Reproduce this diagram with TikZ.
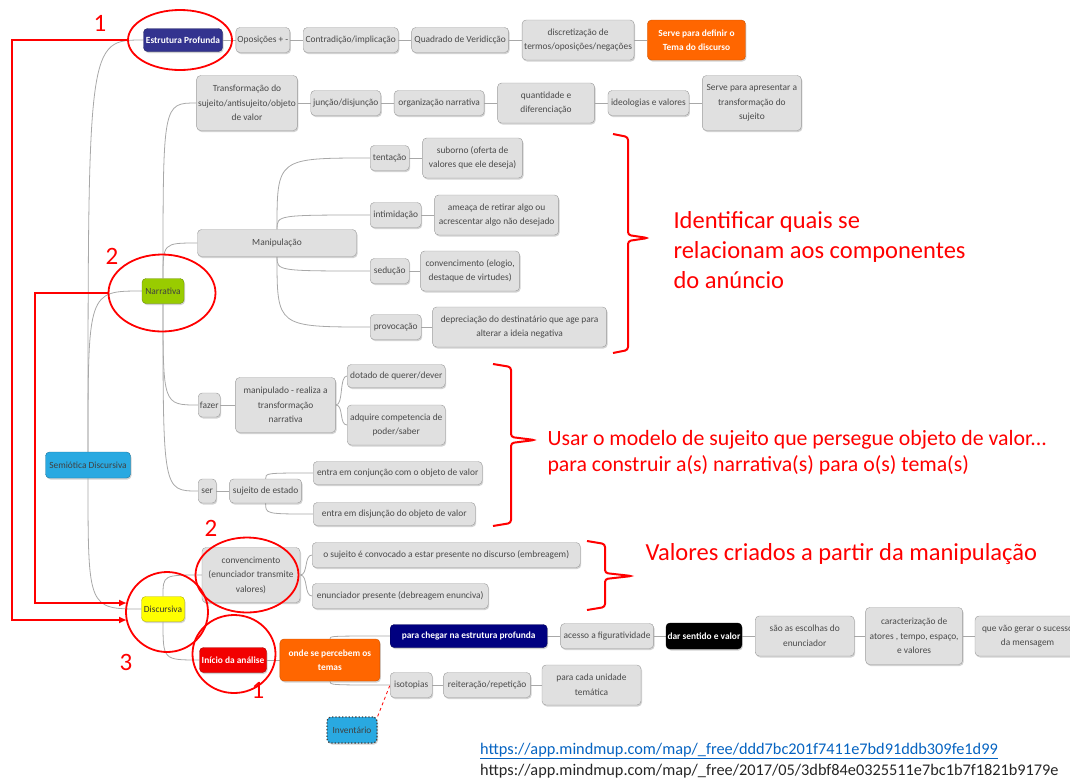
\documentclass[tikz,border=0pt]{standalone}
\usepackage{fontspec}
\setmainfont{Carlito}
\usepackage{xcolor}
\definecolor{cDeep}{HTML}{33338F}
\definecolor{cOrange}{HTML}{FF6600}
\definecolor{cLeaf}{HTML}{99CC00}
\definecolor{cSky}{HTML}{29A9E1}
\definecolor{cSun}{HTML}{FFFF00}
\definecolor{cAlarm}{HTML}{F20000}
\definecolor{cNavy}{HTML}{000080}
\definecolor{cBox}{HTML}{E0E0E0}
\definecolor{cEdge}{HTML}{9A9A9A}
\definecolor{cInk}{HTML}{4A4A4A}
\definecolor{cLink}{HTML}{A8A8A8}
\definecolor{cMark}{HTML}{FF0000}
\definecolor{cUrl}{HTML}{0563C1}
\usepackage{tikz}
\usetikzlibrary{positioning,arrows.meta,shapes.geometric,shadows,backgrounds}
\newcommand{\boxfont}{\fontsize{9.4}{14.5}\selectfont}
\tikzset{
  node-box/.style={draw=cEdge,fill=cBox,rounded corners=4pt,text=cInk,
    minimum height=25pt,inner sep=1.5pt,align=center,font=\boxfont,
    drop shadow={shadow xshift=1pt,shadow yshift=-1.5pt,fill=black!35}},
  box-two/.style={minimum height=40pt},
  box-three/.style={minimum height=55pt},
  node-deep/.style={fill=cDeep,draw=cDeep!70!black,text=white,font=\boxfont\bfseries},
  node-orange/.style={fill=cOrange,draw=cOrange!80!black,text=white,font=\boxfont\bfseries},
  node-leaf/.style={fill=cLeaf,draw=cLeaf!70!black,text=black!75},
  node-sky/.style={fill=cSky,draw=cSky!70!black,text=black!75},
  node-sun/.style={fill=cSun,draw=cSun!70!black,text=black!80},
  node-alarm/.style={fill=cAlarm,draw=cAlarm!70!black,text=white,font=\boxfont\bfseries},
  node-navy/.style={fill=cNavy,draw=cNavy!70!black,text=white,font=\boxfont\bfseries},
  node-black/.style={fill=black,draw=black,text=white,font=\boxfont\bfseries},
  node-dotted/.style={fill=cSky,draw=black!75,dotted,line width=1.3pt,text=black!75},
  link/.style={draw=cLink,line width=0.8pt},
  link-dashed/.style={draw=cMark,dashed,line width=0.8pt},
  ring/.style={draw=cMark,line width=1.8pt,ellipse,inner sep=0pt},
  arrow-red/.style={-{Latex[length=8pt,width=7pt]},draw=cMark,line width=1.5pt},
  brace-red/.style={draw=cMark,line width=2pt,rounded corners=3pt},
  mark-num/.style={text=cMark,font=\fontsize{25}{25}\selectfont},
  note-red/.style={text=cMark,anchor=west,align=left},
}

\begin{document}
\begin{tikzpicture}[x=1pt,y=-1pt,node distance=13pt]
  \useasboundingbox (0,0) rectangle (1070,780);
  \clip (0,0) rectangle (1070,780);

  % raiz
  \node[node-box,node-sky,minimum width=85pt,minimum height=26pt] (root) at (88,465) {Semiótica Discursiva};

  % estrutura profunda
  \node[node-box,node-deep,minimum width=79pt,minimum height=23pt] (estr) at (183,40) {Estrutura Profunda};
  \node[node-box,right=of estr,minimum width=53pt] (opos) {Oposições + -};
  \node[node-box,right=of opos,minimum width=95pt] (contr) {Contradição/implicação};
  \node[node-box,right=of contr,minimum width=97pt] (quad) {Quadrado de Veridicção};
  \node[node-box,box-two,right=of quad,minimum width=112pt] (discr) {discretização de\\termos/oposições/negações};
  \node[node-box,box-two,node-orange,right=of discr,minimum width=98pt] (serve1) {Serve para definir o\\Tema do discurso};

  % narrativa
  \node[node-box,node-leaf,minimum width=42pt] (narr) at (163,291) {Narrativa};
  \node[node-box,box-three,minimum width=99pt] (transf) at (247,103) {Transformação do\\sujeito/antisujeito/objeto\\de valor};
  \node[node-box,right=of transf,minimum width=70pt] (junc) {junção/disjunção};
  \node[node-box,right=of junc,minimum width=90pt] (organ) {organização narrativa};
  \node[node-box,box-two,right=of organ,minimum width=97pt] (quant) {quantidade e\\diferenciação};
  \node[node-box,right=of quant,minimum width=81pt] (ideol) {ideologias e valores};
  \node[node-box,box-three,right=of ideol,minimum width=99pt] (serve2) {Serve para apresentar a\\transformação do\\sujeito};

  \node[node-box,minimum width=159pt,minimum height=27pt] (manip) at (277,243) {Manipulação};
  \node[node-box,anchor=west,minimum width=39pt] (tent) at (370,158) {tentação};
  \node[node-box,box-two,right=of tent,minimum width=100pt] (subor) {suborno (oferta de\\valores que ele deseja)};
  \node[node-box,anchor=west,minimum width=51pt] (intim) at (370,215) {intimidação};
  \node[node-box,box-two,right=of intim,minimum width=124pt] (ameaca) {ameaça de retirar algo ou\\acrescentar algo não desejado};
  \node[node-box,anchor=west,minimum width=39pt] (sed) at (370,271) {sedução};
  \node[node-box,box-two,right=11pt of sed,minimum width=99pt] (elogio) {convencimento (elogio,\\destaque de virtudes)};
  \node[node-box,anchor=west,minimum width=51pt] (provoc) at (370,327) {provocação};
  \node[node-box,box-two,right=11pt of provoc,minimum width=174pt] (deprec) {depreciação do destinatário que age para\\alterar a ideia negativa};

  \node[node-box,anchor=west,minimum width=22pt,minimum height=24pt] (fazer) at (198,405) {fazer};
  \node[node-box,box-three,right=15pt of fazer,minimum width=100pt] (manipu) {manipulado - realiza a\\transformação\\narrativa};
  \node[node-box,anchor=west,minimum width=98pt,minimum height=23pt] (dotado) at (347,376) {dotado de querer/dever};
  \node[node-box,box-two,anchor=west,minimum width=98pt] (adquire) at (347,425) {adquire competencia de\\poder/saber};
  \node[node-box,anchor=west,minimum width=18pt,minimum height=24pt] (ser) at (198,491) {ser};
  \node[node-box,right=of ser,minimum width=72pt,minimum height=24pt] (sujest) {sujeito de estado};
  \node[node-box,anchor=west,minimum width=169pt,minimum height=23pt] (conj) at (313,473) {entra em conjunção com o objeto de valor};
  \node[node-box,anchor=west,minimum width=162pt,minimum height=23pt] (disj) at (313,514) {entra em disjunção do objeto de valor};

  % discursiva
  \node[node-box,node-sun,minimum width=43pt] (disc) at (163,609) {Discursiva};
  \node[node-box,box-three,minimum width=98pt] (conv) at (251,575) {convencimento\\(enunciador transmite\\valores)};
  \node[node-box,anchor=west,minimum width=268pt] (osuj) at (312,555) {o sujeito é convocado a estar presente no discurso (embreagem)};
  \node[node-box,anchor=west,minimum width=176pt] (enunc) at (312,596) {enunciador presente (debreagem enunciva)};
  \node[node-box,node-alarm,minimum width=67pt] (inicio) at (233,660) {Início da análise};
  \node[node-box,box-two,node-orange,right=of inicio,minimum width=100pt,minimum height=42pt] (onde) {onde se percebem os\\temas};
  \node[node-box,node-navy,anchor=west,minimum width=157pt,minimum height=23pt] (chegar) at (390,636) {para chegar na estrutura profunda};
  \node[node-box,right=of chegar,minimum width=93pt] (acesso) {acesso a figuratividade};
  \node[node-box,node-black,right=12pt of acesso,minimum width=75pt,minimum height=26pt] (dar) {dar sentido e valor};
  \node[node-box,box-two,right=of dar,minimum width=99pt] (escol) {são as escolhas do\\enunciador};
  \node[node-box,box-three,right=11pt of escol,minimum width=97pt,minimum height=57pt] (caract) {caracterização de\\atores , tempo, espaço,\\e valores};
  \node[node-box,box-two,right=12pt of caract,minimum width=105pt] (gerar) {que vão gerar o sucesso\\da mensagem};
  \node[node-box,anchor=west,minimum width=42pt] (iso) at (390,685) {isotopias};
  \node[node-box,right=11pt of iso,minimum width=87pt] (reit) {reiteração/repetição};
  \node[node-box,box-two,right=11pt of reit,minimum width=99pt] (cada) {para cada unidade\\temática};
  \node[node-box,node-dotted,minimum width=50pt,minimum height=26pt] (invent) at (352,730) {Inventário};

  \begin{scope}[on background layer]
    \draw[link] (root) .. controls (root |- estr) .. (estr.west);
    \draw[link] (root) .. controls (root |- narr) .. (narr.west);
    \draw[link] (root) .. controls (root |- disc) .. (disc.west);
    \draw[link] (estr) -- (opos) -- (contr) -- (quad) -- (discr) -- (serve1);
    \draw[link] (narr) .. controls (narr |- transf) .. (transf.west);
    \draw[link] (narr) .. controls (narr |- manip) .. (manip.west);
    \draw[link] (narr) .. controls (narr |- fazer) .. (fazer.west);
    \draw[link] (narr) .. controls (narr |- ser) .. (ser.west);
    \draw[link] (transf) -- (junc) -- (organ) -- (quant) -- (ideol) -- (serve2);
    \draw[link] (manip) .. controls (manip |- tent) .. (tent.west);
    \draw[link] (manip) .. controls (manip |- intim) .. (intim.west);
    \draw[link] (manip) .. controls (manip |- sed) .. (sed.west);
    \draw[link] (manip) .. controls (manip |- provoc) .. (provoc.west);
    \draw[link] (tent) -- (subor);
    \draw[link] (intim) -- (ameaca);
    \draw[link] (sed) -- (elogio);
    \draw[link] (provoc) -- (deprec);
    \draw[link] (fazer) -- (manipu);
    \draw[link] (manipu.east) .. controls +(8,0) and +(-8,0) .. (dotado.west);
    \draw[link] (manipu.east) .. controls +(8,0) and +(-8,0) .. (adquire.west);
    \draw[link] (ser) -- (sujest);
    \draw[link] (sujest) .. controls (sujest |- conj) .. (conj.west);
    \draw[link] (sujest) .. controls (sujest |- disj) .. (disj.west);
    \draw[link] (disc) .. controls (disc |- conv) .. (conv.west);
    \draw[link] (disc) .. controls (disc |- inicio) .. (inicio.west);
    \draw[link] (conv.east) .. controls +(8,0) and +(-8,0) .. (osuj.west);
    \draw[link] (conv.east) .. controls +(8,0) and +(-8,0) .. (enunc.west);
    \draw[link] (inicio) -- (onde);
    \draw[link] (onde) .. controls (onde |- chegar) .. (chegar.west);
    \draw[link] (onde) .. controls (onde |- iso) .. (iso.west);
    \draw[link] (chegar) -- (acesso) -- (dar) -- (escol) -- (caract) -- (gerar);
    \draw[link] (iso) -- (reit) -- (cada);
  \end{scope}
  \draw[link-dashed] (invent.north east) -- (iso.west);

  % marcas vermelhas
  \node[ring,minimum width=104pt,minimum height=60pt] (ring-estr) at (180,40) {};
  \node[ring,minimum width=107pt,minimum height=77pt] (ring-narr) at (162,293) {};
  \node[ring,minimum width=82pt,minimum height=80pt] (ring-disc) at (167,612) {};
  \node[ring,minimum width=103pt,minimum height=75pt] (ring-conv) at (247,575) {};
  \node[ring,minimum width=83pt,minimum height=78pt] (ring-ini) at (234,654) {};
  \node[mark-num] (num-estr) at (100,23) {1};
  \node[mark-num] (num-narr) at (112,256) {2};
  \node[mark-num] (num-conv) at (211,528) {2};
  \node[mark-num] (num-disc) at (126,662) {3};
  \node[mark-num] (num-ini) at (258,690) {1};

  \coordinate (bend-estr) at (12,40);
  \coordinate (hit-estr) at (127,620);
  \coordinate (bend-narr) at (35,293);
  \coordinate (hit-narr) at (127,603);
  \draw[arrow-red] (ring-estr.west) -- (bend-estr) |- (hit-estr);
  \draw[arrow-red] (ring-narr.west) -- (bend-narr) |- (hit-narr);

  \draw[brace-red] (613,134) -- (628,137) -- (628,235) -- (648,238) -- (628,241) -- (628,350) -- (613,353);
  \draw[brace-red] (493,364) -- (511,367) -- (511,437) -- (535,440) -- (511,443) -- (511,523) -- (493,526);
  \draw[brace-red] (587,541) -- (605,544) -- (605,573) -- (632,576) -- (605,579) -- (605,607) -- (587,610);

  \node[note-red,font=\fontsize{24.5}{30}\selectfont] (note-ident) at (670,250) {Identificar quais se\\relacionam aos componentes\\do anúncio};
  \node[note-red,font=\fontsize{21.8}{26}\selectfont] (note-usar) at (544,453) {Usar o modelo de sujeito que persegue objeto de valor...\\para construir a(s) narrativa(s) para o(s) tema(s)};
  \node[note-red,font=\fontsize{24.5}{26}\selectfont] (note-valor) at (642,554) {Valores criados a partir da manipulação};

  \node[anchor=west,text=cUrl,font=\fontsize{16.3}{16}\selectfont,inner sep=0pt] (url-a) at (480,751) {\underline{https://app.mindmup.com/map/\_free/ddd7bc201f7411e7bd91ddb309fe1d99}};
  \node[anchor=west,text=black!85,font=\fontsize{16.3}{16}\selectfont,inner sep=0pt] (url-b) at (480,771) {https://app.mindmup.com/map/\_free/2017/05/3dbf84e0325511e7bc1b7f1821b9179e};
\end{tikzpicture}
\end{document}
